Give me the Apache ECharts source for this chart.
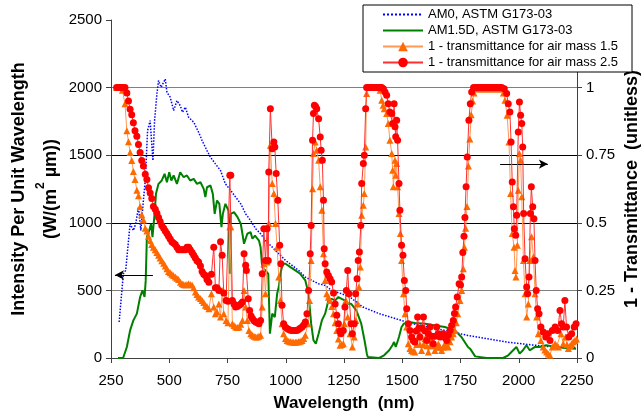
<!DOCTYPE html>
<html><head><meta charset="utf-8">
<script src="https://cdn.jsdelivr.net/npm/echarts@6/dist/echarts.min.js"></script>
<style>html,body{margin:0;padding:0;background:#fff}#c{width:641px;height:420px}</style>
</head><body><div id="c"></div>
<script>
// ---- data ----
const xTicks = [250, 500, 750, 1000, 1250, 1500, 1750, 2000, 2250];
const leftTicks = [0, 500, 1000, 1500, 2000, 2500];
const rightTicks = [0, 0.25, 0.5, 0.75, 1];

const am0Wl = [285,303,313,332,346,356,368,378,389,397,407,418,430,437,447,454,465,483,490,504,519,533,547,557,569,583,605,626,641,662,677,698,720,741,764,785,807,828,849,871,892,913,942,970,999,1027,1055,1084,1112,1141,1169,1197,1240,1275,1331,1401,1472,1542,1613,1683,1782,1862,1947,2033,2118,2246];
const am0Val = [266,623,648,993,943,993,1116,943,1165,1313,1682,1756,1460,1756,1953,2052,2002,2064,1965,1929,1830,1904,1867,1818,1855,1781,1744,1670,1608,1534,1485,1436,1387,1288,1239,1190,1140,1066,1017,956,919,869,820,771,722,685,648,598,574,549,537,500,475,451,377,328,291,254,229,204,167,143,118,101,86,76];

const am15dWl = [280,302,318,332,346,361,375,385,394,399,404,414,422,428,437,443,454,468,480,490,500,509,519,533,547,562,576,590,605,619,634,648,655,662,677,687,695,705,715,724,730,741,754,760,764,778,793,807,821,835,849,857,868,885,892,899,913,925,932,942,953,963,970,977,987,999,1020,1041,1062,1084,1098,1109,1119,1129,1141,1155,1169,1183,1197,1212,1226,1240,1254,1268,1281,1303,1324,1338,1348,1352,1401,1422,1444,1458,1465,1472,1486,1497,1507,1528,1556,1599,1641,1683,1726,1754,1782,1791,1813,1862,1933,1955,1976,1990,2004,2018,2033,2047,2068,2089,2118,2146,2189,2246];
const am15dVal = [0,0,81,204,278,328,451,500,451,574,894,943,993,894,1066,1214,1288,1313,1362,1300,1374,1313,1350,1288,1374,1337,1350,1313,1325,1288,1300,1251,1190,1263,1276,1214,1066,1165,1140,968,1066,1140,1091,623,1066,1079,1042,993,845,919,931,882,906,869,820,672,648,623,180,328,303,475,525,623,697,697,672,648,623,574,475,254,131,106,180,278,328,426,438,426,451,438,426,401,401,352,254,131,32,7,0,20,57,94,118,81,155,229,254,266,259,254,241,229,204,155,81,69,12,0,0,20,57,81,32,57,94,57,81,81,94,86,76,69];

const t15Wl = [274,282,289,299,310,318,325,332,339,346,353,361,368,375,382,389,397,404,411,418,425,432,440,447,454,461,468,476,483,490,497,504,511,518,526,533,540,548,555,562,569,576,583,590,598,605,612,619,626,634,641,648,655,662,670,681,691,698,705,713,720,727,734,744,752,760,764,771,778,785,792,800,807,814,821,828,835,842,850,857,864,871,878,885,892,899,906,913,920,927,934,942,949,956,963,970,977,984,991,999,1006,1013,1020,1027,1034,1041,1048,1055,1062,1070,1077,1084,1095,1102,1109,1115,1119,1126,1133,1141,1148,1155,1162,1169,1176,1183,1190,1198,1205,1212,1219,1226,1233,1240,1247,1252,1258,1266,1276,1286,1294,1301,1309,1314,1320,1326,1333,1337,1343,1347,1354,1360,1366,1372,1378,1384,1390,1398,1405,1412,1418,1423,1433,1440,1447,1455,1459,1462,1469,1472,1476,1480,1486,1492,1497,1505,1512,1519,1526,1533,1540,1547,1554,1562,1569,1576,1583,1591,1598,1605,1612,1619,1626,1633,1640,1648,1655,1662,1669,1676,1683,1691,1698,1705,1712,1719,1726,1732,1738,1748,1755,1762,1767,1772,1778,1784,1790,1796,1802,1808,1818,1825,1832,1839,1846,1853,1860,1867,1874,1881,1888,1895,1902,1909,1916,1922,1927,1934,1941,1950,1958,1965,1972,1980,1984,1988,1994,1998,2003,2008,2013,2020,2027,2034,2041,2048,2055,2063,2070,2077,2084,2095,2105,2112,2120,2127,2134,2144,2156,2163,2170,2181,2191,2201,2207,2213,2220,2227,2234,2241,2248];
const t15Val = [1.0,1.0,1.0,0.99,0.94,0.84,0.80,0.76,0.73,0.69,0.66,0.62,0.60,0.56,0.53,0.51,0.48,0.47,0.45,0.435,0.42,0.41,0.40,0.39,0.38,0.37,0.36,0.35,0.34,0.33,0.32,0.315,0.31,0.305,0.30,0.295,0.29,0.28,0.275,0.272,0.27,0.272,0.275,0.272,0.27,0.26,0.244,0.235,0.226,0.22,0.213,0.205,0.195,0.19,0.182,0.238,0.189,0.164,0.17,0.20,0.152,0.25,0.164,0.139,0.13,0.485,0.485,0.127,0.12,0.115,0.113,0.115,0.125,0.139,0.25,0.189,0.139,0.102,0.09,0.084,0.08,0.078,0.078,0.08,0.084,0.189,0.349,0.238,0.355,0.497,0.787,0.645,0.608,0.497,0.41,0.30,0.213,0.127,0.09,0.072,0.065,0.062,0.06,0.059,0.058,0.058,0.059,0.06,0.062,0.065,0.072,0.084,0.127,0.213,0.361,0.626,0.756,0.799,0.768,0.731,0.633,0.546,0.386,0.287,0.238,0.225,0.213,0.19,0.164,0.13,0.102,0.07,0.047,0.05,0.053,0.127,0.213,0.152,0.09,0.041,0.078,0.139,0.20,0.263,0.337,0.528,0.565,0.608,0.78,0.978,1.0,1.0,1.0,1.0,1.0,1.0,1.0,1.0,0.99,0.953,0.935,0.922,0.904,0.867,0.805,0.756,0.694,0.633,0.731,0.676,0.719,0.633,0.534,0.46,0.361,0.238,0.164,0.115,0.053,0.035,0.028,0.025,0.022,0.05,0.078,0.05,0.028,0.05,0.072,0.045,0.022,0.045,0.065,0.045,0.028,0.04,0.053,0.04,0.028,0.04,0.053,0.045,0.041,0.06,0.078,0.09,0.102,0.13,0.164,0.213,0.25,0.33,0.41,0.48,0.56,0.71,0.81,0.9,0.95,0.98,0.996,0.996,0.996,0.996,0.996,0.996,0.996,0.996,0.996,0.996,0.996,0.996,0.996,0.996,0.996,0.996,0.996,0.98,0.953,0.898,0.799,0.608,0.46,0.41,0.324,0.30,0.417,0.62,0.756,0.731,0.596,0.361,0.238,0.152,0.20,0.361,0.448,0.374,0.238,0.152,0.09,0.065,0.041,0.03,0.022,0.015,0.01,0.041,0.053,0.045,0.041,0.09,0.053,0.078,0.05,0.035,0.045,0.053,0.06,0.065,0.07];

const t25Wl = [274,282,289,296,303,310,318,325,332,339,346,353,361,368,375,382,389,397,404,411,418,425,432,440,447,454,461,468,476,483,490,497,504,511,518,526,533,540,548,555,562,569,576,583,590,598,605,612,619,626,634,641,648,655,662,670,681,691,698,705,713,720,727,734,744,752,760,764,771,778,785,792,800,807,814,821,828,831,839,845,851,857,864,871,878,885,892,899,906,913,920,925,927,934,942,949,953,959,966,974,979,984,991,998,1006,1013,1020,1027,1034,1041,1048,1055,1062,1070,1077,1084,1091,1098,1105,1109,1115,1119,1123,1128,1133,1141,1148,1152,1157,1162,1165,1169,1176,1183,1190,1197,1205,1212,1219,1226,1232,1237,1247,1254,1260,1266,1271,1280,1286,1294,1300,1306,1311,1316,1322,1326,1333,1337,1343,1347,1353,1359,1365,1371,1377,1383,1389,1395,1401,1407,1412,1419,1426,1433,1440,1447,1455,1459,1465,1469,1472,1476,1480,1486,1490,1497,1503,1509,1515,1519,1526,1533,1540,1547,1554,1560,1566,1571,1576,1584,1591,1598,1605,1612,1619,1626,1633,1640,1648,1655,1662,1669,1676,1684,1691,1698,1705,1712,1719,1724,1729,1736,1744,1750,1755,1760,1765,1769,1774,1779,1786,1792,1798,1806,1813,1820,1827,1834,1841,1848,1855,1862,1869,1876,1883,1890,1897,1904,1911,1918,1927,1938,1948,1955,1962,1967,1972,1977,1981,1987,1991,1998,2003,2008,2013,2017,2021,2027,2034,2038,2044,2050,2054,2060,2065,2070,2075,2081,2087,2095,2105,2116,2124,2134,2144,2156,2167,2177,2184,2191,2198,2205,2215,2227,2238,2246];
const t25Val = [1.0,1.0,1.0,1.0,1.0,1.0,0.98,0.95,0.92,0.90,0.87,0.84,0.82,0.79,0.76,0.73,0.71,0.68,0.66,0.63,0.61,0.59,0.56,0.55,0.535,0.52,0.505,0.49,0.48,0.47,0.46,0.45,0.44,0.43,0.425,0.42,0.41,0.40,0.40,0.40,0.40,0.40,0.41,0.41,0.40,0.39,0.38,0.37,0.36,0.355,0.34,0.32,0.31,0.305,0.29,0.28,0.31,0.41,0.26,0.26,0.25,0.43,0.38,0.24,0.213,0.21,0.676,0.676,0.213,0.2,0.189,0.19,0.195,0.2,0.207,0.386,0.343,0.324,0.219,0.176,0.155,0.146,0.138,0.133,0.13,0.127,0.139,0.312,0.478,0.361,0.478,0.361,0.688,0.922,0.774,0.799,0.78,0.682,0.583,0.417,0.349,0.195,0.127,0.115,0.109,0.105,0.103,0.102,0.102,0.102,0.102,0.105,0.11,0.115,0.122,0.133,0.164,0.25,0.386,0.49,0.805,0.904,0.935,0.93,0.922,0.885,0.817,0.768,0.731,0.583,0.404,0.349,0.318,0.305,0.293,0.281,0.24,0.20,0.158,0.127,0.1,0.09,0.102,0.189,0.25,0.324,0.238,0.127,0.09,0.127,0.238,0.293,0.361,0.392,0.49,0.645,0.719,0.75,0.922,1.0,1.0,1.0,1.0,1.0,1.0,1.0,1.0,1.0,1.0,1.0,1.0,0.996,0.984,0.972,0.94,0.91,0.904,0.867,0.94,0.855,0.818,0.879,0.805,0.645,0.546,0.417,0.38,0.287,0.25,0.182,0.127,0.102,0.078,0.065,0.059,0.1,0.152,0.11,0.078,0.11,0.152,0.1,0.065,0.09,0.115,0.08,0.053,0.08,0.115,0.09,0.078,0.085,0.09,0.075,0.065,0.085,0.102,0.12,0.139,0.165,0.189,0.226,0.275,0.27,0.3,0.39,0.45,0.52,0.633,0.743,0.879,0.94,0.984,1.0,1.0,1.0,1.0,1.0,1.0,1.0,1.0,1.0,1.0,1.0,1.0,1.0,1.0,1.0,1.0,1.0,1.0,0.996,0.978,0.94,0.91,0.799,0.651,0.559,0.478,0.454,0.528,0.836,0.947,0.898,0.867,0.78,0.534,0.367,0.263,0.238,0.30,0.534,0.633,0.559,0.515,0.361,0.25,0.182,0.164,0.115,0.096,0.078,0.09,0.065,0.102,0.115,0.102,0.176,0.127,0.115,0.213,0.115,0.078,0.09,0.115,0.127];

// annotation arrows (which axis each series belongs to)
const leftArrow = {from: [430, 614], to: [267, 614]};
const rightArrow = {from: [1920, 0.717], to: [2125, 0.717]};

const seriesNames = ['AM0, ASTM G173-03', 'AM1.5D, ASTM G173-03', '1 - transmittance for air mass 1.5', '1 - transmittance for air mass 2.5'];

function pairs(a, b) { return a.map((x, i) => [x, b[i]]); }

const FONT = 'Liberation Sans, Arial, sans-serif';
const AXIS = '#404040';
const chart = echarts.init(document.getElementById('c'), null, {renderer: 'canvas'});
chart.setOption({
  animation: false,
  backgroundColor: '#fff',
  textStyle: {fontFamily: FONT},
  grid: {left: 111, right: 64, top: 20, bottom: 62, containLabel: false, outerBoundsMode: 'none'},
  legend: {
    orient: 'vertical', left: 363, top: 5,
    padding: [3, 14, 3, 19], itemGap: 3, itemWidth: 40, itemHeight: 12,
    backgroundColor: '#fff', borderColor: '#000', borderWidth: 1, borderRadius: 0,
    textStyle: {fontFamily: FONT, fontSize: 13, color: '#000'},
    data: [
      {name: seriesNames[0], itemStyle: {opacity: 0}},
      {name: seriesNames[1], itemStyle: {opacity: 0}},
      {name: seriesNames[2]},
      {name: seriesNames[3]}
    ]
  },
  xAxis: {
    type: 'value', min: xTicks[0], max: xTicks[xTicks.length - 1], interval: 250,
    name: 'Wavelength  (nm)', nameLocation: 'middle', nameGap: 37, nameMoveOverlap: false,
    nameTextStyle: {fontFamily: FONT, fontSize: 17, fontWeight: 'bold', color: '#000'},
    axisLine: {lineStyle: {color: AXIS, width: 1}},
    axisTick: {show: true, length: 5, lineStyle: {color: AXIS}},
    axisLabel: {fontFamily: FONT, fontSize: 15, color: '#000', margin: 15, formatter: v => String(v)},
    splitLine: {show: false}
  },
  yAxis: [{
    type: 'value', min: leftTicks[0], max: leftTicks[leftTicks.length - 1], interval: 500,
    name: '{t|Intensity Per Unit Wavelength}\n{t|(W/(m}{s|2}{t| \u00B5m))}',
    nameLocation: 'middle', nameGap: 44, nameRotate: 90, nameMoveOverlap: false,
    nameTextStyle: {
      fontFamily: FONT, fontSize: 18, fontWeight: 'bold', color: '#000', lineHeight: 32,
      rich: {
        t: {fontFamily: FONT, fontSize: 18, fontWeight: 'bold', color: '#000', lineHeight: 32},
        s: {fontFamily: FONT, fontSize: 12, fontWeight: 'bold', color: '#000', verticalAlign: 'top', lineHeight: 21}
      }
    },
    axisLine: {show: true, lineStyle: {color: AXIS, width: 1}},
    axisTick: {show: true, length: 5, lineStyle: {color: AXIS}},
    axisLabel: {fontFamily: FONT, fontSize: 15, color: '#000', margin: 9, formatter: v => String(v)},
    splitLine: {show: true, showMinLine: false, showMaxLine: false,
      lineStyle: {color: ['#808080', '#000', '#000', '#808080'], width: 1}}
  }, {
    type: 'value', position: 'right', min: 0, max: 1.25, interval: 0.25,
    name: '1 - Transmittance  (unitless)', nameLocation: 'middle', nameGap: 46, nameRotate: 90,
    nameMoveOverlap: false,
    nameTextStyle: {fontFamily: FONT, fontSize: 18, fontWeight: 'bold', color: '#000'},
    axisLine: {show: true, lineStyle: {color: AXIS, width: 1}},
    axisTick: {show: true, length: 5, lineStyle: {color: AXIS}},
    axisLabel: {fontFamily: FONT, fontSize: 15, color: '#000', margin: 9,
      formatter: v => (rightTicks.indexOf(v) >= 0 ? String(v) : '')},
    splitLine: {show: false}
  }],
  series: [{
    name: seriesNames[0], type: 'line', yAxisIndex: 0, symbol: 'none',
    data: pairs(am0Wl, am0Val), z: 2,
    lineStyle: {color: '#0000FF', width: 1.5, type: 'dotted'},
    itemStyle: {color: '#0000FF'}
  }, {
    name: seriesNames[1], type: 'line', yAxisIndex: 0, symbol: 'none',
    data: pairs(am15dWl, am15dVal), z: 3,
    lineStyle: {color: '#008000', width: 2},
    itemStyle: {color: '#008000'},
    markLine: {
      silent: true, symbol: ['none', 'arrow'], symbolSize: [7, 9],
      label: {show: false},
      lineStyle: {color: '#000', width: 1, type: 'solid'},
      data: [[{coord: leftArrow.from}, {coord: leftArrow.to}]]
    }
  }, {
    name: seriesNames[2], type: 'line', yAxisIndex: 1, symbol: 'triangle', symbolSize: 7,
    showAllSymbol: true, data: pairs(t15Wl, t15Val), z: 4,
    lineStyle: {color: '#FF9955', width: 1},
    itemStyle: {color: '#FF6A00'},
    markLine: {
      silent: true, symbol: ['none', 'arrow'], symbolSize: [7, 9],
      label: {show: false},
      lineStyle: {color: '#000', width: 1, type: 'solid'},
      data: [[{coord: rightArrow.from}, {coord: rightArrow.to}]]
    }
  }, {
    name: seriesNames[3], type: 'line', yAxisIndex: 1, symbol: 'circle', symbolSize: 7,
    showAllSymbol: true, data: pairs(t25Wl, t25Val), z: 5,
    lineStyle: {color: '#FF3030', width: 1},
    itemStyle: {color: '#FF0000'}
  }]
});
</script></body></html>
